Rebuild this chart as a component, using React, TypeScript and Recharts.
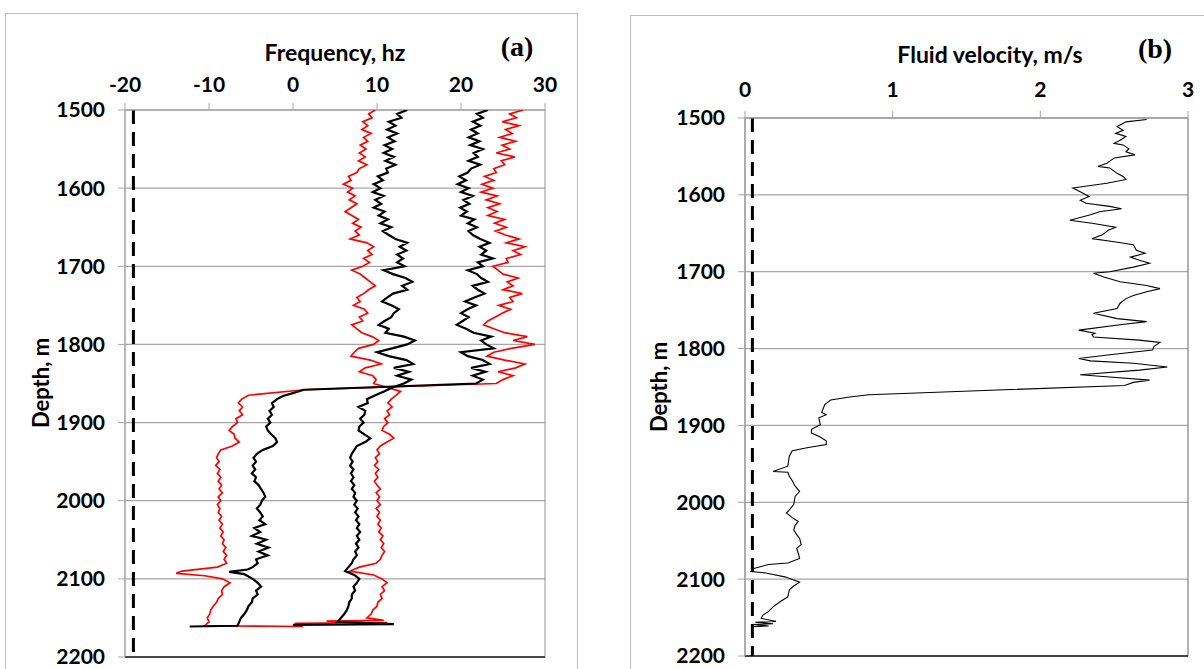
import React from 'react';
import {
  ScatterChart,
  Scatter,
  XAxis,
  YAxis,
  CartesianGrid,
  ReferenceLine,
  ReferenceArea,
} from 'recharts';

// tick labels
const depthTicks = [1500, 1600, 1700, 1800, 1900, 2000, 2100, 2200];
const freqTicks = [-20, -10, 0, 10, 20, 30];
const velocityTicks = [0, 1, 2, 3];

// reference (dashed) lines
const freqLimit = -19;
const velocityLimit = 0.05;

// panel (a): [depth m, frequency hz]
// left red trace (upper ~8 hz, then ~11 hz below the break)
const redInner: [number, number][] = [
  [1500, 9.8], [1505, 9.0], [1510, 9.4], [1515, 8.3], [1520, 8.9], [1525, 8.2], [1530, 9.3], [1535, 8.4],
  [1540, 8.9], [1545, 8.0], [1550, 8.7], [1555, 7.9], [1560, 8.6], [1565, 7.8], [1570, 8.8], [1575, 7.9],
  [1580, 7.6], [1585, 6.6], [1590, 6.9], [1595, 6.0], [1600, 7.1], [1605, 6.5], [1610, 7.4], [1615, 6.7],
  [1620, 7.6], [1625, 6.9], [1630, 6.2], [1635, 7.0], [1640, 7.8], [1645, 7.1], [1650, 8.1], [1655, 7.4],
  [1660, 7.9], [1665, 6.8], [1670, 8.8], [1675, 9.6], [1680, 8.9], [1685, 9.4], [1690, 8.4], [1695, 9.1],
  [1700, 8.3], [1705, 7.0], [1710, 8.0], [1715, 8.6], [1720, 9.2], [1725, 9.8], [1730, 9.0], [1735, 8.4],
  [1740, 7.6], [1745, 8.0], [1750, 7.2], [1755, 8.5], [1760, 8.9], [1765, 7.9], [1770, 8.3], [1775, 7.0],
  [1780, 7.6], [1785, 8.2], [1790, 9.4], [1795, 10.2], [1800, 9.6], [1805, 7.8], [1810, 7.3], [1815, 6.9],
  [1820, 9.2], [1825, 10.5], [1830, 8.6], [1835, 7.9], [1840, 9.5], [1845, 9.9], [1850, 9.6], [1855, 11.2],
  [1860, 12.8], [1865, 12.3], [1870, 11.7], [1875, 11.3], [1880, 11.8], [1885, 11.2], [1890, 11.5], [1895, 10.9],
  [1900, 11.3], [1905, 10.8], [1910, 10.6], [1915, 11.5], [1920, 12.0], [1925, 11.2], [1930, 10.4], [1935, 10.0],
  [1940, 10.3], [1945, 9.8], [1950, 10.1], [1955, 9.7], [1960, 10.2], [1965, 9.8], [1970, 10.1], [1975, 9.7],
  [1980, 10.0], [1985, 10.4], [1990, 9.9], [1995, 10.3], [2000, 10.0], [2005, 10.4], [2010, 9.9], [2015, 10.3],
  [2020, 10.0], [2025, 10.4], [2030, 10.1], [2035, 10.5], [2040, 10.2], [2045, 10.7], [2050, 10.4], [2055, 10.8],
  [2060, 10.5], [2065, 10.9], [2070, 10.6], [2075, 10.4], [2080, 9.9], [2085, 7.9], [2090, 6.8], [2095, 9.6],
  [2100, 10.6], [2105, 11.2], [2110, 10.6], [2115, 10.9], [2120, 10.4], [2125, 10.6], [2130, 10.1], [2135, 10.0],
  [2140, 9.5], [2145, 9.3], [2150, 8.8], [2153, 10.8], [2154, 4.0], [2156, 11.2], [2157, 0.2],
];

// left black trace (upper ~11 hz, then ~7.5 hz)
const blackInner: [number, number][] = [
  [1500, 13.6], [1505, 12.4], [1510, 12.9], [1515, 11.4], [1520, 12.2], [1525, 11.2], [1530, 12.4], [1535, 11.3],
  [1540, 12.1], [1545, 10.9], [1550, 11.8], [1555, 10.8], [1560, 12.0], [1565, 11.0], [1570, 12.2], [1575, 11.1],
  [1580, 11.3], [1585, 10.1], [1590, 10.7], [1595, 9.6], [1600, 10.4], [1605, 9.5], [1610, 10.8], [1615, 9.8],
  [1620, 10.5], [1625, 9.6], [1630, 10.9], [1635, 10.2], [1640, 11.3], [1645, 10.4], [1650, 11.7], [1655, 10.7],
  [1660, 11.4], [1665, 12.2], [1670, 13.6], [1675, 12.7], [1680, 13.5], [1685, 12.4], [1690, 13.1], [1695, 12.4],
  [1700, 13.3], [1705, 10.8], [1710, 11.9], [1715, 13.4], [1720, 14.2], [1725, 13.0], [1730, 13.6], [1735, 11.9],
  [1740, 11.2], [1745, 10.6], [1750, 11.7], [1755, 12.6], [1760, 12.0], [1765, 11.7], [1770, 10.9], [1775, 10.2],
  [1780, 11.4], [1785, 11.0], [1790, 13.2], [1795, 14.5], [1800, 13.6], [1805, 11.8], [1810, 10.0], [1815, 11.4],
  [1820, 13.5], [1825, 14.3], [1830, 12.0], [1835, 13.8], [1840, 12.4], [1845, 14.1], [1850, 13.2], [1855, 11.8],
  [1860, 10.9], [1865, 9.8], [1870, 8.8], [1875, 8.9], [1880, 7.8], [1885, 8.6], [1890, 8.5], [1895, 8.0],
  [1900, 8.4], [1905, 7.9], [1910, 7.8], [1915, 8.5], [1920, 9.2], [1925, 8.6], [1930, 7.6], [1935, 7.3],
  [1940, 7.0], [1945, 6.8], [1950, 7.1], [1955, 6.8], [1960, 7.2], [1965, 6.9], [1970, 7.2], [1975, 6.9],
  [1980, 7.3], [1985, 7.0], [1990, 7.4], [1995, 7.2], [2000, 7.6], [2005, 7.3], [2010, 7.7], [2015, 7.4],
  [2020, 7.8], [2025, 7.5], [2030, 7.9], [2035, 7.6], [2040, 8.0], [2045, 7.6], [2050, 7.9], [2055, 7.5],
  [2060, 7.8], [2065, 7.4], [2070, 7.6], [2075, 7.2], [2080, 7.0], [2085, 6.6], [2090, 6.2], [2095, 7.3],
  [2100, 7.9], [2105, 7.6], [2110, 7.2], [2115, 7.4], [2120, 7.0], [2125, 7.0], [2130, 6.7], [2135, 6.6],
  [2140, 6.4], [2145, 6.1], [2150, 5.7], [2155, 5.3], [2158, 12.0], [2159, 0.0],
];

// right black trace (upper ~21 hz, then ~-4 hz)
const blackOuter: [number, number][] = [
  [1500, 23.2], [1505, 21.9], [1510, 22.6], [1515, 21.4], [1520, 22.3], [1525, 21.2], [1530, 22.0], [1535, 20.9],
  [1540, 22.2], [1545, 21.1], [1550, 22.6], [1555, 21.5], [1560, 22.0], [1565, 20.9], [1570, 22.3], [1575, 21.2],
  [1580, 20.8], [1585, 19.8], [1590, 20.6], [1595, 19.6], [1600, 20.9], [1605, 20.0], [1610, 21.4], [1615, 20.3],
  [1620, 21.0], [1625, 19.9], [1630, 20.7], [1635, 20.0], [1640, 21.6], [1645, 20.8], [1650, 21.9], [1655, 20.9],
  [1660, 21.4], [1665, 22.3], [1670, 23.4], [1675, 22.2], [1680, 23.0], [1685, 22.4], [1690, 23.8], [1695, 22.0],
  [1700, 22.6], [1705, 20.8], [1710, 21.9], [1715, 22.4], [1720, 23.2], [1725, 21.4], [1730, 22.0], [1735, 22.8],
  [1740, 21.6], [1745, 20.5], [1750, 21.8], [1755, 20.8], [1760, 20.0], [1765, 20.9], [1770, 20.2], [1775, 19.5],
  [1780, 20.6], [1785, 21.5], [1790, 23.6], [1795, 22.4], [1800, 23.0], [1805, 23.9], [1810, 20.0], [1815, 20.8],
  [1820, 22.6], [1825, 23.4], [1830, 21.2], [1835, 22.9], [1840, 21.4], [1845, 22.6], [1850, 21.8], [1858, 1.3],
  [1863, -0.2], [1866, -1.2], [1870, -1.9], [1875, -2.5], [1880, -2.3], [1885, -2.8], [1890, -2.5], [1895, -3.0],
  [1900, -2.7], [1905, -3.2], [1910, -3.0], [1915, -2.6], [1920, -2.1], [1925, -1.9], [1930, -2.4], [1935, -3.6],
  [1940, -4.3], [1945, -4.7], [1950, -4.4], [1955, -4.8], [1960, -4.5], [1965, -4.9], [1970, -4.4], [1975, -4.6],
  [1980, -4.1], [1985, -3.8], [1990, -3.5], [1995, -3.3], [2000, -3.7], [2005, -3.9], [2010, -4.3], [2015, -3.9],
  [2020, -3.6], [2025, -4.0], [2030, -3.3], [2035, -4.6], [2040, -3.9], [2045, -4.9], [2050, -3.2], [2055, -4.3],
  [2060, -2.9], [2065, -4.1], [2070, -3.0], [2075, -4.4], [2080, -4.2], [2085, -4.8], [2088, -5.4], [2091, -7.6],
  [2094, -5.8], [2100, -4.8], [2105, -4.2], [2110, -3.8], [2115, -4.4], [2120, -4.2], [2125, -4.8], [2130, -4.9],
  [2135, -5.3], [2140, -5.5], [2145, -5.8], [2150, -6.2], [2155, -6.4], [2160, -6.6], [2161, -12.3],
];

// right red trace (upper ~25 hz, then ~-8.5 hz)
const redOuter: [number, number][] = [
  [1500, 27.4], [1505, 25.8], [1510, 26.6], [1515, 24.9], [1520, 26.9], [1525, 25.3], [1530, 26.1], [1535, 24.6],
  [1540, 26.5], [1545, 24.9], [1550, 25.8], [1555, 24.2], [1560, 26.4], [1565, 24.8], [1570, 25.2], [1575, 23.9],
  [1580, 24.2], [1585, 22.8], [1590, 23.9], [1595, 22.5], [1600, 23.8], [1605, 22.4], [1610, 24.3], [1615, 23.0],
  [1620, 24.6], [1625, 23.2], [1630, 24.3], [1635, 23.2], [1640, 25.2], [1645, 24.0], [1650, 25.4], [1655, 24.1],
  [1660, 25.3], [1665, 26.9], [1670, 25.4], [1675, 27.6], [1680, 26.2], [1685, 27.1], [1690, 25.4], [1695, 25.6],
  [1700, 23.8], [1705, 24.4], [1710, 25.0], [1715, 26.8], [1720, 25.5], [1725, 26.2], [1730, 25.0], [1735, 27.3],
  [1740, 25.8], [1745, 26.2], [1750, 24.5], [1755, 25.9], [1760, 24.9], [1765, 24.1], [1770, 23.2], [1775, 22.7],
  [1780, 23.9], [1785, 25.2], [1790, 27.9], [1795, 26.2], [1800, 28.8], [1805, 26.0], [1810, 23.9], [1815, 23.1],
  [1820, 25.2], [1825, 27.6], [1830, 26.5], [1835, 24.4], [1840, 26.2], [1845, 25.0], [1850, 24.2], [1858, 1.4],
  [1865, -5.3], [1870, -6.1], [1875, -6.5], [1880, -6.0], [1885, -6.4], [1890, -6.0], [1895, -6.8], [1900, -6.6],
  [1905, -7.2], [1910, -7.6], [1915, -7.0], [1920, -6.9], [1925, -6.4], [1930, -7.2], [1935, -8.6], [1940, -8.9],
  [1945, -9.1], [1950, -8.8], [1955, -9.2], [1960, -8.7], [1965, -9.0], [1970, -8.6], [1975, -8.9], [1980, -8.5],
  [1985, -8.8], [1990, -8.4], [1995, -8.9], [2000, -8.6], [2005, -9.0], [2010, -8.7], [2015, -8.9], [2020, -8.5],
  [2025, -8.8], [2030, -8.4], [2035, -8.7], [2040, -8.3], [2045, -8.6], [2050, -8.2], [2055, -8.4], [2060, -8.0],
  [2065, -8.3], [2070, -7.9], [2075, -8.2], [2080, -7.9], [2085, -9.0], [2090, -13.2], [2093, -13.9], [2096, -10.5],
  [2100, -8.4], [2105, -7.5], [2110, -8.2], [2115, -8.5], [2120, -8.4], [2125, -8.9], [2130, -9.1], [2135, -9.5],
  [2140, -9.8], [2145, -9.9], [2150, -10.2], [2155, -10.0], [2160, -10.5], [2161, 1.2],
];

// panel (b): [depth m, fluid velocity m/s]
const fluidVelocity: [number, number][] = [
  [1502, 2.72], [1505, 2.58], [1508, 2.55], [1511, 2.52], [1516, 2.56], [1520, 2.51], [1524, 2.58], [1529, 2.54],
  [1533, 2.50], [1535, 2.56], [1540, 2.60], [1544, 2.58], [1548, 2.64], [1552, 2.50], [1559, 2.45], [1563, 2.39],
  [1565, 2.47], [1572, 2.52], [1576, 2.56], [1580, 2.58], [1585, 2.45], [1591, 2.22], [1596, 2.27], [1602, 2.33],
  [1607, 2.27], [1611, 2.31], [1615, 2.47], [1618, 2.55], [1622, 2.40], [1626, 2.34], [1633, 2.20], [1637, 2.35],
  [1642, 2.51], [1646, 2.46], [1652, 2.42], [1657, 2.35], [1661, 2.50], [1665, 2.63], [1672, 2.65], [1676, 2.71],
  [1681, 2.61], [1685, 2.67], [1689, 2.74], [1694, 2.63], [1700, 2.47], [1702, 2.36], [1707, 2.43], [1713, 2.54],
  [1718, 2.72], [1722, 2.81], [1726, 2.72], [1731, 2.63], [1735, 2.58], [1741, 2.54], [1748, 2.52], [1754, 2.36],
  [1761, 2.52], [1765, 2.72], [1769, 2.54], [1776, 2.26], [1780, 2.37], [1782, 2.35], [1785, 2.36], [1789, 2.67],
  [1792, 2.81], [1797, 2.77], [1802, 2.76], [1808, 2.47], [1813, 2.26], [1816, 2.34], [1819, 2.63], [1824, 2.86],
  [1828, 2.67], [1834, 2.27], [1837, 2.47], [1841, 2.74], [1844, 2.63], [1848, 2.57], [1860, 0.84], [1863, 0.71],
  [1867, 0.58], [1873, 0.54], [1883, 0.52], [1886, 0.55], [1890, 0.50], [1899, 0.51], [1905, 0.45], [1910, 0.45],
  [1914, 0.50], [1920, 0.55], [1925, 0.55], [1929, 0.42], [1933, 0.32], [1940, 0.30], [1953, 0.29], [1960, 0.19],
  [1961, 0.29], [1966, 0.30], [1972, 0.32], [1979, 0.34], [1986, 0.37], [1992, 0.34], [2003, 0.33], [2010, 0.30],
  [2014, 0.28], [2020, 0.32], [2025, 0.36], [2030, 0.34], [2036, 0.33], [2042, 0.35], [2047, 0.37], [2055, 0.38],
  [2060, 0.35], [2066, 0.36], [2073, 0.37], [2079, 0.29], [2081, 0.16], [2086, 0.06], [2090, 0.04], [2092, 0.14],
  [2097, 0.27], [2101, 0.33], [2104, 0.37], [2109, 0.33], [2114, 0.30], [2123, 0.29], [2129, 0.24], [2136, 0.19],
  [2142, 0.16], [2147, 0.12], [2151, 0.11], [2155, 0.21], [2156, 0.07], [2158, 0.19], [2159, 0.05], [2161, 0.16],
  [2162, 0.04],
];

const FONT = 'Lato, "Open Sans", sans-serif';
const GRID = '#a6a6a6';

const toPoints = (rows: [number, number][]) => rows.map(([d, v]) => ({ d, v }));

const tickStyle = { fill: '#000', fontSize: 21, fontWeight: 700, fontFamily: FONT };

const NoDot = () => <g />;

interface Trace {
  rows: [number, number][];
  color: string;
  width: number;
}

interface PanelProps {
  width: number;
  height: number;
  margin: { top: number; right: number; bottom: number; left: number };
  xDomain: [number, number];
  xTicks: number[];
  topMargin: number;
  dashX: number;
  traces: Trace[];
  rightStroke: string;
}

const DepthPanel = ({ width, height, margin, xDomain, xTicks, topMargin, dashX, traces, rightStroke }: PanelProps) => (
  <ScatterChart width={width} height={height} margin={margin}>
    <CartesianGrid horizontal vertical={false} stroke={GRID} strokeWidth={1.2} />
    <XAxis
      type="number"
      dataKey="v"
      orientation="top"
      domain={xDomain}
      ticks={xTicks}
      height={30}
      allowDataOverflow
      axisLine={{ stroke: GRID }}
      tickLine={{ stroke: GRID }}
      tickSize={7}
      tickMargin={topMargin}
      tick={tickStyle}
    />
    <YAxis
      type="number"
      dataKey="d"
      domain={[1500, 2200]}
      ticks={depthTicks}
      reversed
      width={60}
      allowDataOverflow
      axisLine={{ stroke: GRID }}
      tickLine={{ stroke: GRID }}
      tickSize={7}
      tickMargin={13}
      tick={tickStyle}
    />
    <ReferenceArea
      x1={xDomain[0]}
      x2={xDomain[1]}
      y1={1500}
      y2={2200}
      fill="none"
      stroke={rightStroke}
      strokeWidth={1.2}
      ifOverflow="visible"
    />
    <ReferenceLine y={2200} stroke="#222" strokeWidth={1.5} />
    <ReferenceLine
      x={dashX}
      stroke="#000"
      strokeWidth={3}
      strokeDasharray="14 8"
    />
    {traces.map((t, i) => (
      <Scatter
        key={i}
        data={toPoints(t.rows)}
        fill={t.color}
        line={{ stroke: t.color, strokeWidth: t.width }}
        lineType="joint"
        shape={NoDot}
        isAnimationActive={false}
      />
    ))}
  </ScatterChart>
);

const textBase: React.CSSProperties = {
  position: 'absolute',
  transform: 'translate(-50%, -50%)',
  whiteSpace: 'nowrap',
  fontFamily: FONT,
  fontWeight: 700,
  color: '#000',
  lineHeight: 1,
};

export default function App() {
  return (
    <div
      style={{
        position: 'absolute',
        left: 0,
        top: 0,
        width: 1204,
        height: 669,
        background: '#fff',
        overflow: 'hidden',
      }}
    >
      {/* panel frames */}
      <div style={{ position: 'absolute', left: 5, top: 13, width: 571, height: 700, border: '1px solid #bfbfbf' }} />
      <div style={{ position: 'absolute', left: 630, top: 15, width: 700, height: 700, border: '1px solid #bfbfbf' }} />

      <div style={{ position: 'absolute', left: 0, top: 0 }}>
        <DepthPanel
          width={600}
          height={669}
          margin={{ top: 80, right: 55, bottom: 12, left: 65 }}
          xDomain={[-20, 30]}
          xTicks={freqTicks}
          topMargin={11}
          dashX={freqLimit}
          rightStroke={GRID}
          traces={[
            { rows: redInner, color: '#ff0000', width: 1.7 },
            { rows: redOuter, color: '#ff0000', width: 1.7 },
            { rows: blackInner, color: '#000', width: 2.2 },
            { rows: blackOuter, color: '#000', width: 2.2 },
          ]}
        />
      </div>

      <div style={{ position: 'absolute', left: 600, top: 0 }}>
        <DepthPanel
          width={604}
          height={669}
          margin={{ top: 88, right: 16, bottom: 13, left: 85 }}
          xDomain={[0, 3]}
          xTicks={velocityTicks}
          topMargin={14}
          dashX={velocityLimit}
          rightStroke="#7f7f7f"
          traces={[{ rows: fluidVelocity, color: '#000', width: 1.1 }]}
        />
      </div>

      {/* titles */}
      <div style={{ ...textBase, left: 335, top: 52, fontSize: 23 }}>Frequency, hz</div>
      <div style={{ ...textBase, left: 517, top: 47, fontSize: 28, fontFamily: '"Liberation Serif", serif' }}>(a)</div>
      <div style={{ ...textBase, left: 990, top: 54, fontSize: 23 }}>Fluid velocity, m/s</div>
      <div style={{ ...textBase, left: 1155, top: 49, fontSize: 28, fontFamily: '"Liberation Serif", serif' }}>(b)</div>

      {/* depth axis labels */}
      <div style={{ ...textBase, left: 41, top: 383, fontSize: 22, transform: 'translate(-50%, -50%) rotate(-90deg)' }}>
        Depth, m
      </div>
      <div style={{ ...textBase, left: 659, top: 387, fontSize: 22, transform: 'translate(-50%, -50%) rotate(-90deg)' }}>
        Depth, m
      </div>
    </div>
  );
}
